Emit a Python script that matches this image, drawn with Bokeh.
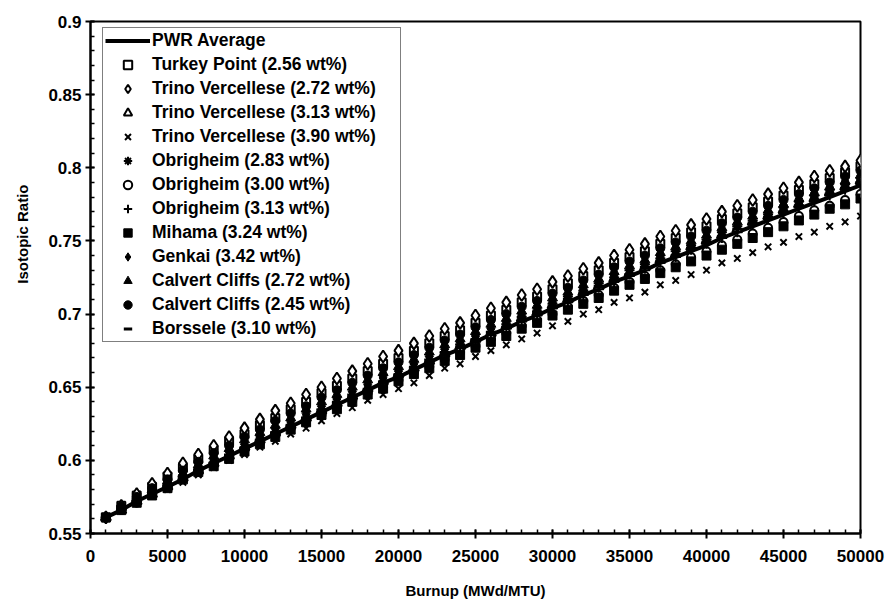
from bokeh.plotting import figure
from bokeh.models import FixedTicker, Legend, LegendItem, Title
from bokeh.embed import file_html
from bokeh.resources import INLINE

# Burnup (MWd/MTU)
burnup = list(range(1000, 50001, 1000))

pwr_average = [.561,.566,.572,.577,.582,.587,.593,.598,.603,.608,.613,.618,.623,.628,.633,.638,.643,.648,.653,.657,
               .662,.667,.672,.676,.681,.686,.690,.695,.699,.704,.708,.713,.717,.722,.726,.730,.735,.739,.743,.747,
               .752,.756,.760,.764,.768,.772,.776,.780,.784,.788]
turkey_point_256 = [.561,.569,.576,.582,.589,.595,.601,.607,.613,.618,.624,.629,.635,.640,.646,.651,.656,.661,.666,.670,
                    .675,.680,.685,.689,.694,.699,.703,.708,.712,.717,.721,.726,.730,.735,.739,.743,.748,.752,.756,.760,
                    .765,.769,.773,.777,.781,.785,.789,.793,.797,.801]
trino_272 = [.561,.569,.577,.584,.591,.598,.604,.610,.616,.622,.628,.634,.639,.645,.650,.656,.661,.666,.671,.675,
             .680,.685,.690,.694,.699,.704,.708,.713,.717,.722,.726,.731,.735,.740,.744,.748,.753,.757,.761,.765,
             .770,.774,.778,.782,.786,.790,.794,.798,.801,.805]
trino_313 = [.561,.566,.572,.577,.582,.588,.593,.598,.603,.609,.614,.619,.624,.629,.634,.639,.644,.649,.654,.659,
             .663,.668,.673,.678,.683,.687,.692,.697,.701,.706,.710,.715,.719,.724,.728,.732,.737,.741,.746,.750,
             .754,.758,.763,.767,.771,.775,.779,.783,.787,.791]
trino_390 = [.561,.566,.571,.576,.580,.585,.590,.595,.600,.604,.609,.613,.618,.622,.627,.632,.636,.641,.645,.649,
             .653,.658,.663,.666,.671,.675,.679,.683,.687,.692,.695,.700,.703,.708,.711,.715,.720,.723,.727,.730,
             .735,.738,.742,.746,.749,.753,.756,.760,.763,.767]
obrigheim_283 = [.561,.566,.572,.577,.583,.588,.593,.598,.604,.609,.614,.619,.624,.629,.635,.640,.645,.649,.654,.659,
                 .664,.669,.674,.679,.683,.688,.693,.698,.702,.707,.712,.716,.721,.725,.730,.734,.738,.743,.747,.751,
                 .756,.760,.764,.768,.773,.777,.781,.785,.789,.793]
obrigheim_300 = [.561,.566,.571,.577,.582,.587,.592,.597,.602,.607,.612,.617,.622,.627,.631,.636,.641,.646,.650,.655,
                 .660,.664,.669,.674,.678,.683,.687,.692,.696,.700,.705,.709,.713,.718,.722,.726,.730,.734,.739,.743,
                 .747,.751,.755,.759,.763,.767,.771,.774,.778,.782]
obrigheim_313 = [.561,.566,.572,.577,.582,.587,.593,.598,.603,.608,.613,.618,.623,.628,.633,.638,.643,.648,.653,.658,
                 .662,.667,.672,.677,.681,.686,.691,.695,.700,.704,.709,.713,.718,.722,.727,.731,.735,.739,.744,.748,
                 .752,.756,.761,.765,.769,.773,.777,.781,.785,.789]
mihama_324 = [.561,.566,.571,.576,.581,.587,.592,.596,.601,.606,.611,.616,.621,.626,.631,.635,.640,.645,.649,.654,
              .659,.663,.668,.672,.677,.681,.685,.690,.694,.699,.703,.707,.711,.716,.720,.724,.728,.732,.736,.740,
              .744,.748,.752,.756,.760,.764,.768,.772,.775,.779]
genkai_342 = [.561,.567,.573,.579,.584,.590,.595,.601,.606,.611,.616,.622,.627,.632,.637,.642,.647,.652,.657,.661,
              .666,.671,.676,.680,.685,.690,.694,.699,.703,.708,.712,.717,.721,.726,.730,.734,.739,.743,.747,.751,
              .756,.760,.764,.768,.772,.776,.780,.784,.788,.792]
calvert_272 = [.561,.568,.574,.580,.586,.591,.597,.603,.608,.614,.619,.624,.629,.635,.640,.645,.650,.655,.660,.664,
               .669,.674,.679,.683,.688,.693,.697,.702,.706,.711,.715,.720,.724,.729,.733,.737,.742,.746,.750,.754,
               .759,.763,.767,.771,.775,.779,.783,.787,.791,.795]
calvert_245 = [.561,.568,.575,.581,.587,.593,.599,.605,.610,.616,.621,.627,.632,.637,.643,.648,.653,.658,.663,.667,
               .672,.677,.682,.686,.691,.696,.700,.705,.709,.714,.718,.723,.727,.732,.736,.740,.745,.749,.753,.757,
               .762,.766,.770,.774,.778,.782,.786,.790,.794,.798]
borssele_310 = [.561,.566,.572,.577,.582,.588,.593,.598,.603,.608,.614,.619,.624,.629,.634,.639,.644,.648,.653,.658,
                .663,.668,.673,.677,.682,.687,.691,.696,.701,.705,.710,.714,.719,.723,.727,.732,.736,.740,.745,.749,
                .753,.758,.762,.766,.770,.774,.778,.782,.786,.790]

x_ticks = [0, 5000, 10000, 15000, 20000, 25000, 30000, 35000, 40000, 45000, 50000]
x_tick_labels = ["0", "5000", "10000", "15000", "20000", "25000", "30000", "35000", "40000", "45000", "50000"]
y_ticks = [0.55, 0.6, 0.65, 0.7, 0.75, 0.8, 0.85, 0.9]
y_tick_labels = ["0.55", "0.6", "0.65", "0.7", "0.75", "0.8", "0.85", "0.9"]

FONT = "Liberation Sans"

p = figure(width=888, height=601, x_range=(0, 50000), y_range=(0.55, 0.9),
           output_backend="svg", toolbar_location=None,
           min_border_left=90, min_border_right=28, min_border_top=21, min_border_bottom=68)
p.background_fill_color = "white"
p.border_fill_color = "white"
p.xgrid.visible = False
p.ygrid.visible = False
p.outline_line_color = "black"
p.outline_line_width = 2

p.xaxis.ticker = FixedTicker(ticks=x_ticks, minor_ticks=[i * 1000 for i in range(0, 51)])
p.yaxis.ticker = FixedTicker(ticks=y_ticks, minor_ticks=[round(0.55 + i * 0.01, 2) for i in range(0, 36)])
p.xaxis.major_label_overrides = dict(zip(x_ticks, x_tick_labels))
p.yaxis.major_label_overrides = dict(zip(y_ticks, y_tick_labels))

for ax in (p.xaxis[0], p.yaxis[0]):
    ax.axis_line_color = "black"
    ax.axis_line_width = 2
    ax.major_tick_line_color = "black"
    ax.major_tick_line_width = 2
    ax.major_tick_in = 4
    ax.major_tick_out = 5
    ax.minor_tick_line_color = "black"
    ax.minor_tick_line_width = 1.5
    ax.minor_tick_in = 4
    ax.minor_tick_out = 0
    ax.major_label_text_font = FONT
    ax.major_label_text_font_style = "bold"
    ax.major_label_text_font_size = "17px"
    ax.major_label_text_color = "black"
    ax.axis_label_text_font = FONT
    ax.axis_label_text_font_style = "bold"
    ax.axis_label_text_font_size = "15px"
    ax.axis_label_text_color = "black"

p.xaxis.axis_label = "Burnup (MWd/MTU)"
p.xaxis.major_label_standoff = 11
p.xaxis.axis_label_standoff = 17
p.yaxis.major_label_standoff = 4

# y-axis title, placed a little above the frame centre as in the original
p.add_layout(Title(text="Isotopic Ratio", align="right", offset=163, standoff=26,
                   vertical_align="top",
                   text_font=FONT, text_font_style="bold", text_font_size="15px",
                   text_color="black"), "left")

items = []
r = p.line(burnup, pwr_average, line_color="black", line_width=4)
items.append(LegendItem(label="PWR Average", renderers=[r]))

series = [
    ("Turkey Point (2.56 wt%)", turkey_point_256, dict(marker="square", size=8, fill_color="white", line_width=2)),
    ("Trino Vercellese (2.72 wt%)", trino_272, dict(marker="diamond", size=12, fill_color="white", line_width=2)),
    ("Trino Vercellese (3.13 wt%)", trino_313, dict(marker="triangle", size=10, fill_color="white", line_width=2)),
    ("Trino Vercellese (3.90 wt%)", trino_390, dict(marker="x", size=9, line_width=2)),
    ("Obrigheim (2.83 wt%)", obrigheim_283, dict(marker="asterisk", size=10, line_width=2)),
    ("Obrigheim (3.00 wt%)", obrigheim_300, dict(marker="circle", size=8, fill_color="white", line_width=2)),
    ("Obrigheim (3.13 wt%)", obrigheim_313, dict(marker="cross", size=10, line_width=2)),
    ("Mihama (3.24 wt%)", mihama_324, dict(marker="square", size=9, fill_color="black", line_width=1)),
    ("Genkai (3.42 wt%)", genkai_342, dict(marker="diamond", size=12, fill_color="black", line_width=1)),
    ("Calvert Cliffs (2.72 wt%)", calvert_272, dict(marker="triangle", size=10, fill_color="black", line_width=1)),
    ("Calvert Cliffs (2.45 wt%)", calvert_245, dict(marker="circle", size=9, fill_color="black", line_width=1)),
    ("Borssele (3.10 wt%)", borssele_310, dict(marker="dash", size=10, line_width=3)),
]
for label, ys, kw in series:
    r = p.scatter(burnup, ys, line_color="black", **kw)
    items.append(LegendItem(label=label, renderers=[r]))

legend = Legend(items=items, location=(12, 191), margin=0, padding=2, spacing=3,
                glyph_width=45, glyph_height=21, label_height=21, label_width=246, label_standoff=2,
                label_text_font=FONT, label_text_font_style="bold", label_text_font_size="17.5px",
                label_text_color="black", border_line_color="black", border_line_width=1.5,
                background_fill_color="white", background_fill_alpha=1.0)
p.add_layout(legend, "center")

open("out.html", "w").write(file_html(p, INLINE))
